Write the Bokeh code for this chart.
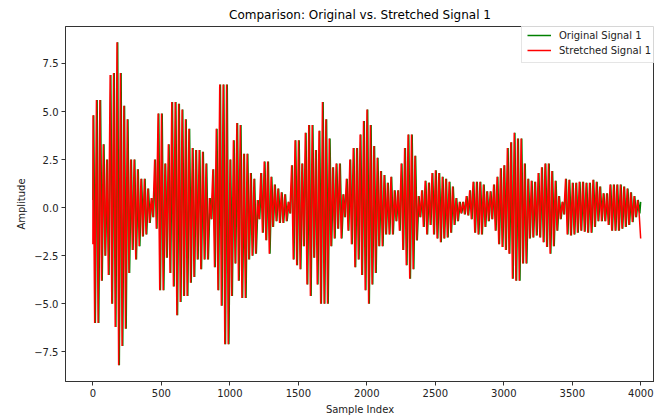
import numpy as np
from bokeh.plotting import figure
from bokeh.models import Range1d, FixedTicker, CustomJSTickFormatter, Legend, LegendItem
from bokeh.embed import file_html
from bokeh.resources import INLINE

# ---- data ----
title_text = "Comparison: Original vs. Stretched Signal 1"
x_label = "Sample Index"
y_label = "Amplitude"
series_names = ["Original Signal 1", "Stretched Signal 1"]

x_ticks = [0, 500, 1000, 1500, 2000, 2500, 3000, 3500, 4000]
y_ticks = [-7.5, -5.0, -2.5, 0.0, 2.5, 5.0, 7.5]

n_samples = 4000
peak_spacing = 25          # samples between successive positive peaks
orig_first, orig_last = 0.4, 0.3
stretch_first, stretch_last = -1.9, -1.6
stretch_shift = -5         # stretched peaks sit slightly left of the original ones

# positive peaks (one per oscillation) of the original signal
upper_peaks = [
    4.8, 5.6, 5.6, 3.3, 2.5, 6.9, 7.0, 8.6, 7.0, 5.3,
    4.6, 2.5, 2.5, 2.0, 1.5, 1.5, 1.0, 0.5, 2.5, 4.9,
    4.9, 2.3, 3.3, 5.5, 5.5, 5.4, 5.1, 4.6, 4.1, 3.1,
    3.0, 3.0, 2.9, 2.3, 0.5, 2.0, 4.1, 6.4, 6.4, 6.4,
    2.5, 3.5, 4.4, 4.3, 2.8, 2.8, 1.8, 1.5, 0.4, 1.8,
    2.4, 2.4, 1.6, 1.2, 1.0, 0.8, 0.7, 0.3, 2.2, 3.5,
    3.5, 2.3, 3.9, 4.3, 4.3, 3.0, 4.0, 5.5, 4.6, 3.6,
    2.1, 2.3, 2.3, 0.7, 1.5, 2.5, 3.1, 3.1, 3.8, 4.5,
    5.1, 4.3, 3.2, 2.6, 1.9, 1.7, 1.3, 1.6, 0.9, 0.9,
    2.3, 3.1, 3.8, 3.8, 2.7, 0.6, 0.9, 1.4, 1.3, 1.8,
    1.95, 1.8, 1.6, 1.5, 1.35, 1.1, 0.5, 0.3, 0.3, 0.6,
    0.9, 1.35, 1.35, 1.35, 1.2, 0.85, 0.85, 1.2, 1.6, 2.05,
    2.2, 3.1, 3.4, 3.9, 3.6, 3.6, 2.3, 1.5, 1.4, 1.35,
    1.8, 2.1, 2.3, 2.3, 1.9, 1.4, 0.6, 0.3, 1.5, 1.45,
    1.3, 1.3, 1.35, 1.35, 1.3, 1.3, 1.45, 1.35, 1.1, 0.75,
    0.75, 1.2, 1.2, 1.2, 1.2, 1.1, 1.0, 0.8, 0.6, 0.4,
]
# negative peaks (one per oscillation) of the original signal
lower_peaks = [
    -6.0, -6.0, -3.8, -2.5, -3.5, -5.0, -6.2, -8.2, -7.2, -6.3,
    -3.4, -2.2, -2.7, -2.0, -1.5, -1.4, -0.8, -0.5, -1.1, -4.3,
    -4.3, -2.6, -3.4, -4.1, -5.6, -4.9, -4.6, -4.6, -3.9, -3.6,
    -2.7, -3.2, -2.7, -2.7, -0.6, -3.1, -4.3, -5.1, -7.1, -7.1,
    -4.6, -2.9, -3.8, -4.7, -4.7, -2.7, -2.5, -2.4, -0.6, -1.3,
    -1.7, -2.4, -1.0, -0.7, -0.8, -0.8, -0.7, -0.3, -2.7, -3.0,
    -3.2, -2.0, -4.0, -4.6, -2.6, -4.0, -5.0, -5.0, -5.0, -2.0,
    -1.6, -1.1, -1.6, -0.5, -1.2, -1.9, -3.1, -2.7, -3.5, -4.3,
    -5.0, -4.0, -3.4, -2.0, -2.0, -1.4, -1.4, -1.4, -0.7, -1.2,
    -2.2, -3.0, -3.7, -3.2, -1.7, -0.5, -1.0, -1.4, -0.9, -1.4,
    -1.6, -1.8, -1.6, -1.55, -1.3, -0.9, -0.7, -0.3, -0.35, -0.4,
    -0.6, -1.3, -1.4, -1.4, -1.0, -0.7, -0.6, -1.2, -1.9, -2.05,
    -2.2, -2.4, -3.7, -3.8, -3.8, -2.9, -2.9, -1.6, -1.55, -1.45,
    -1.55, -1.8, -2.05, -2.4, -2.0, -1.2, -0.6, -0.35, -1.4, -1.45,
    -1.4, -1.3, -1.2, -1.25, -1.3, -1.3, -1.0, -0.7, -0.7, -0.7,
    -0.9, -1.2, -1.2, -1.2, -1.1, -1.0, -0.9, -0.75, -0.5, -0.3,
]


def zigzag(first, last, shift):
    xs, ys = [0], [first]
    for i, (u, l) in enumerate(zip(upper_peaks, lower_peaks)):
        xs += [i * peak_spacing + 6 + shift, i * peak_spacing + 18 + shift]
        ys += [u, l]
    xs.append(n_samples - 1)
    ys.append(last)
    return xs, ys


ox, oy = zigzag(orig_first, orig_last, 0)
sx, sy = zigzag(stretch_first, stretch_last, stretch_shift)

FONT = "DejaVu Sans"

p = figure(width=654, height=417, output_backend="svg", toolbar_location=None,
           x_range=Range1d(-200, 4100), y_range=Range1d(-9.04, 9.42),
           min_border_left=65, min_border_right=0, min_border_top=23, min_border_bottom=35)

r1 = p.line(ox, oy, line_color="green", line_width=1.5)
r2 = p.line(sx, sy, line_color="red", line_width=1.5)

p.title.text = title_text
p.title.align = "center"
p.title.text_font = FONT
p.title.text_font_size = "12px"
p.title.text_font_style = "normal"
p.title.text_color = "#000000"
p.title.offset = 5

p.xgrid.visible = False
p.ygrid.visible = False
p.outline_line_color = "#333333"
p.outline_line_width = 1
p.background_fill_color = "white"
p.border_fill_color = "white"

p.xaxis.ticker = FixedTicker(ticks=x_ticks)
p.yaxis.ticker = FixedTicker(ticks=y_ticks)
p.yaxis.formatter = CustomJSTickFormatter(
    code="return (tick < 0 ? '\u2212' : '') + Math.abs(tick).toFixed(1);")
p.xaxis.formatter = CustomJSTickFormatter(code="return tick.toFixed(0);")

for ax in (p.xaxis, p.yaxis):
    ax.major_tick_out = 4
    ax.major_tick_in = 0
    ax.minor_tick_line_color = None
    ax.axis_line_color = "#333333"
    ax.major_tick_line_color = "#333333"
    ax.major_label_text_font = FONT
    ax.major_label_text_font_size = "10px"
    ax.major_label_text_color = "#222222"
    ax.axis_label_text_font = FONT
    ax.axis_label_text_font_size = "10px"
    ax.axis_label_text_font_style = "normal"
    ax.axis_label_text_color = "#222222"
    ax.major_label_standoff = 3
    ax.axis_label_standoff = 4

p.xaxis.axis_label = x_label
p.yaxis.axis_label = y_label

legend = Legend(items=[LegendItem(label=series_names[0], renderers=[r1]),
                       LegendItem(label=series_names[1], renderers=[r2])],
                location=(456, 318))
legend.label_text_font = FONT
legend.label_text_font_size = "10px"
legend.label_text_color = "#222222"
legend.glyph_width = 24
legend.glyph_height = 14
legend.label_height = 14
legend.label_standoff = 8
legend.padding = 5
legend.spacing = 1
legend.margin = 0
legend.border_line_color = "#cccccc"
legend.border_line_width = 1
legend.background_fill_alpha = 0.8
p.add_layout(legend)

open("out.html", "w").write(file_html(p, INLINE))
